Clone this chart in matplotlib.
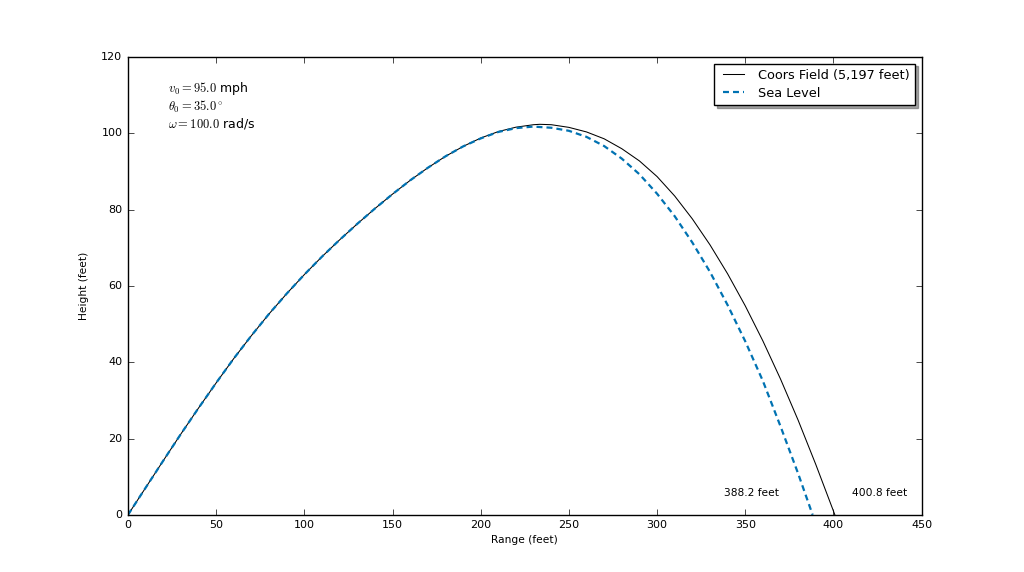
import matplotlib
matplotlib.use("Agg")
import matplotlib.pyplot as plt

# Trajectories (range in feet, height in feet)
coors_range = [0, 10, 20, 30, 40, 50, 60, 70, 80, 90, 100, 110, 120, 130, 140,
               150, 160, 170, 180, 190, 200, 210, 220, 230, 233.5, 240, 250,
               260, 270, 280, 290, 300, 310, 320, 330, 340, 350, 360, 370,
               380, 390, 400, 400.8]
coors_height = [0, 7.1, 14.2, 21.2, 28.0, 34.6, 41.0, 47.0, 52.7, 58.0, 63.0,
                67.7, 72.1, 76.3, 80.3, 84.1, 87.7, 91.0, 94.0, 96.6, 98.8,
                100.5, 101.65, 102.3, 102.4, 102.3, 101.6, 100.4, 98.6, 96.0,
                92.8, 88.7, 83.6, 77.6, 70.8, 63.2, 54.8, 45.6, 35.6, 24.8,
                13.2, 1.0, 0]

sea_range = [0, 10, 20, 30, 40, 50, 60, 70, 80, 90, 100, 110, 120, 130, 140,
             150, 160, 170, 180, 190, 200, 210, 220, 229.7, 240, 250, 260,
             270, 280, 290, 300, 310, 320, 330, 340, 350, 360, 370, 380, 388.2]
sea_height = [0, 7.1, 14.2, 21.2, 28.0, 34.6, 41.0, 47.0, 52.7, 58.0, 63.0,
              67.7, 72.1, 76.3, 80.3, 84.1, 87.7, 91.0, 94.0, 96.6, 98.7,
              100.4, 101.4, 101.8, 101.5, 100.7, 99.1, 96.7, 93.4, 89.3, 84.2,
              78.3, 71.4, 63.7, 55.0, 45.5, 35.1, 23.2, 10.8, 0]

coors_label = "Coors Field (5,197 feet)"
sea_label = "Sea Level"
coors_dist = 400.8
sea_dist = 388.2
info_text = "$v_0 = 95.0$ mph\n$\\theta_0 = 35.0^\\circ$\n$\\omega = 100.0$ rad/s"

plt.style.use("classic")
plt.rcParams["font.family"] = ["DejaVu Sans"]
plt.rcParams["mathtext.fontset"] = "cm"

fig = plt.figure(figsize=(10.24, 5.72), dpi=100, facecolor="white")
ax = fig.add_axes([0.125, 0.1, 0.775, 0.8])
ax.set_facecolor("white")

ax.plot(coors_range, coors_height, color="black", lw=0.75, label=coors_label)
ax.plot(sea_range, sea_height, color="#0072B2", lw=1.6, linestyle=(0, (4.3, 2.9)),
        label=sea_label)

ax.text(sea_dist - 50, 5, f"{sea_dist:.1f} feet", fontsize=7.7)
ax.text(coors_dist + 10, 5, f"{coors_dist:.1f} feet", fontsize=7.7)
ax.text(0.05, 0.95, info_text, transform=ax.transAxes, va="top", fontsize=9,
        linespacing=1.12)

ax.set_xlim(0, 450)
ax.set_ylim(0, 120)
ax.set_xticks(range(0, 451, 50))
ax.set_yticks(range(0, 121, 20))
ax.tick_params(labelsize=8, pad=4)
ax.set_xlabel("Range (feet)", fontsize=7.7, labelpad=3)
ax.set_ylabel("Height (feet)", fontsize=7.7, labelpad=9)

leg = ax.legend(loc="upper right", shadow=True, fancybox=False, fontsize=9.3,
                borderaxespad=0.5, handlelength=2.2, borderpad=0.4,
                labelspacing=0.4)

fig.savefig("out.png", dpi=100, facecolor="white")
